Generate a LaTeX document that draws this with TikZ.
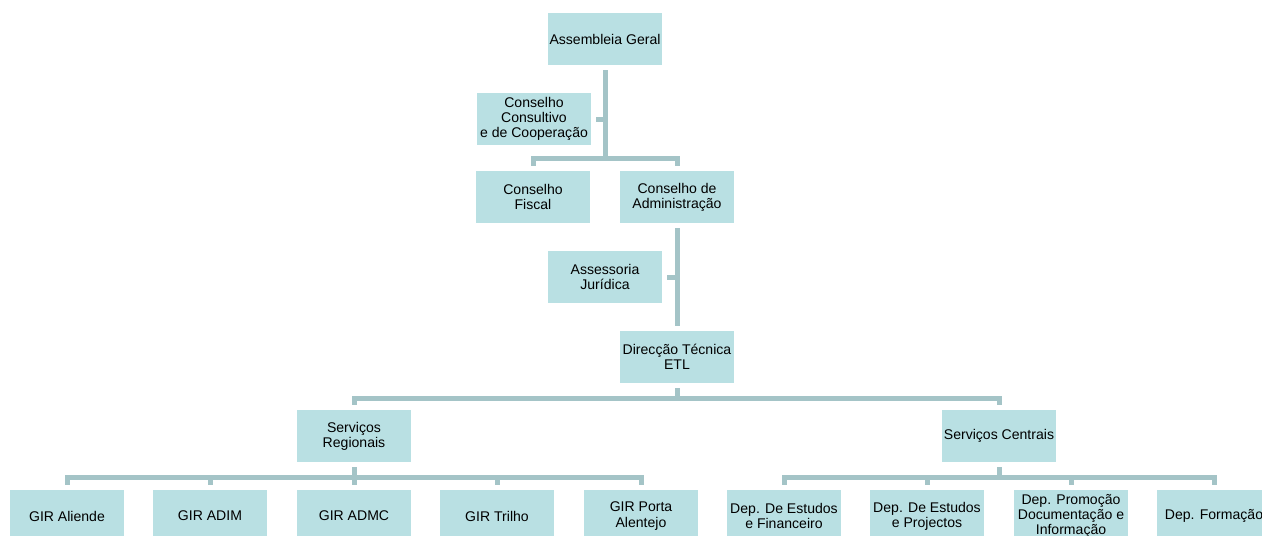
\documentclass[tikz,border=0pt]{standalone}
\usepackage{fontspec}
\setmainfont{Liberation Sans}
\usetikzlibrary{calc}
\definecolor{boxfill}{RGB}{185,224,227}
\definecolor{linkcol}{RGB}{164,196,199}
\tikzset{
  unit/.style={fill=boxfill, minimum width=2.3cm, minimum height=1.04cm,
    inner sep=0pt, align=center, font=\fontsize{8}{8.6}\selectfont},
  link/.style={draw=linkcol, line width=0.1cm},
}
\begin{document}
\begin{tikzpicture}[x=0.02cm, y=-0.02cm]
  \useasboundingbox (0,0) rectangle (1262,535);
  \clip (0,0) rectangle (1262,535);
  % board level
  \node [unit] (ag) at (605,39) {Assembleia Geral};
  \node [unit] (cc) at (534,119) {Conselho\\Consultivo\\e de Cooperação};
  \node [unit] (cf) at (533,197) {Conselho\\Fiscal};
  \node [unit] (ca) at (677,197) {Conselho de\\Administração};
  \node [unit] (aj) at (605,277) {Assessoria\\Jurídica};
  \node [unit] (dt) at (677,357) {Direcção Técnica\\ETL};
  \node [unit] (sr) at (354,436) {Serviços\\Regionais};
  \node [unit] (sc) at (999,436) {Serviços Centrais};
  % regional units
  \node [unit] (g1) at (67,516) {GIR Aliende};
  \node [unit] (g2) at (210,516) {GIR ADIM};
  \node [unit] (g3) at (354,516) {GIR ADMC};
  \node [unit] (g4) at (497,516) {GIR Trilho};
  \node [unit] (g5) at (641,516) {GIR Porta\\Alentejo};
  % central departments
  \node [unit] (d1) at (784,516) {Dep. De Estudos\\e Financeiro};
  \node [unit] (d2) at (927,516) {Dep. De Estudos\\e Projectos};
  \node [unit] (d3) at (1071,516) {Dep. Promoção\\Documentação e\\Informação};
  \node [unit] (d4) at (1214,516) {Dep. Formação};

  % connectors
  \coordinate (j1) at (605,158);
  \draw [link] ($(ag.south)+(0,5)$) -- (j1);
  \draw [link] (605,119) -- ($(cc.east)+(4,0)$);
  \draw [link] (j1) -| ($(cf.north)+(0,-5)$);
  \draw [link] (j1) -| ($(ca.north)+(0,-5)$);
  \draw [link] ($(ca.south)+(0,5)$) -- ($(dt.north)+(0,-5)$);
  \draw [link] (677,277) -- ($(aj.east)+(4,0)$);
  \coordinate (j2) at (677,398);
  \draw [link] ($(dt.south)+(0,5)$) -- (j2);
  \draw [link] (j2) -| ($(sr.north)+(0,-5)$);
  \draw [link] (j2) -| ($(sc.north)+(0,-5)$);
  \coordinate (j3) at (354,477);
  \draw [link] ($(sr.south)+(0,5)$) -- (j3);
  \foreach \n in {g1,g2,g3,g4,g5}
    \draw [link] (j3) -| ($(\n.north)+(0,-5)$);
  \coordinate (j4) at (999,477);
  \draw [link] ($(sc.south)+(0,5)$) -- (j4);
  \foreach \n in {d1,d2,d3,d4}
    \draw [link] (j4) -| ($(\n.north)+(0,-5)$);
\end{tikzpicture}
\end{document}
